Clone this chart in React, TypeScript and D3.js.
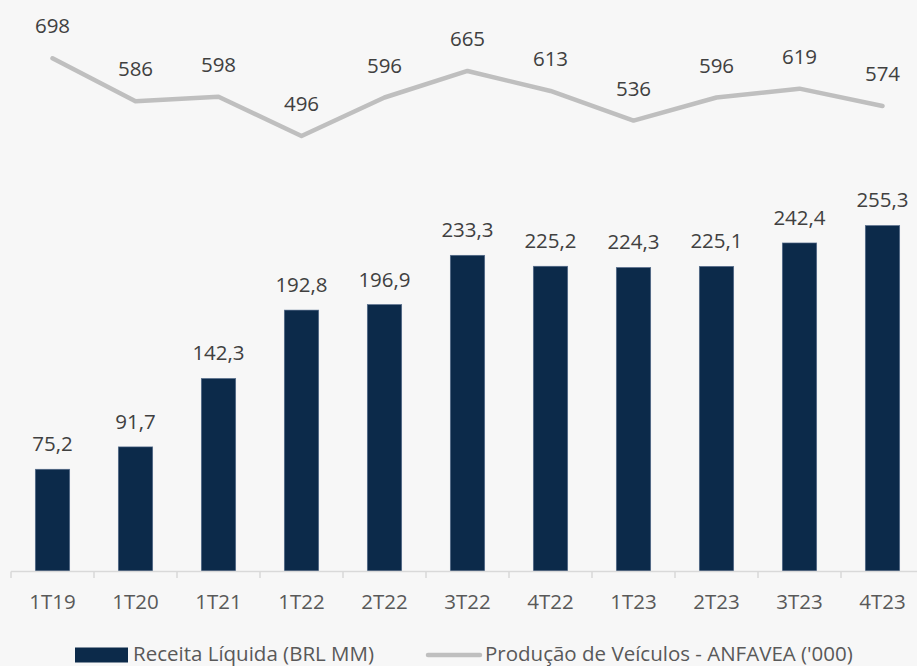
import React from "react";
import * as d3 from "d3";

const categories = ["1T19", "1T20", "1T21", "1T22", "2T22", "3T22", "4T22", "1T23", "2T23", "3T23", "4T23"];
const receita = [75.2, 91.7, 142.3, 192.8, 196.9, 233.3, 225.2, 224.3, 225.1, 242.4, 255.3];
const producao = [698, 586, 598, 496, 596, 665, 613, 536, 596, 619, 574];
const legendBar = "Receita Líquida (BRL MM)";
const legendLine = "Produção de Veículos - ANFAVEA ('000)";

const W = 917;
const H = 666;
const BG = "#f7f7f7";
const BAR = "#0c2a4a";
const LINE = "#bfbfbf";
const TXT = "#404040";
const TXT2 = "#595959";
const FONT = "'Open Sans', 'Noto Sans', sans-serif";

const fmt = (v: number) => v.toFixed(1).replace(".", ",");

export default function App() {
  const x = d3.scaleBand<string>().domain(categories).range([11, 924]).paddingInner(0.585).paddingOuter(0.2925);
  const yBar = d3.scaleLinear().domain([0, 300]).range([571, 165]);
  const yLine = d3.scaleLinear().domain([0, 700]).range([326.8, 57.5]);
  const cx = (c: string) => (x(c) as number) + x.bandwidth() / 2;
  const line = d3
    .line<number>()
    .x((_, i) => cx(categories[i]))
    .y((d) => yLine(d));
  const step = x.step();
  const boundaries = d3.range(categories.length + 1).map((i) => 11 + i * step);

  return (
    <svg width={W} height={H} style={{ position: "absolute", left: 0, top: 0, background: BG }} fontFamily={FONT}>
      <rect x={0} y={0} width={W} height={H} fill={BG} />
      {receita.map((v, i) => (
        <rect
          key={categories[i]}
          x={x(categories[i])}
          y={yBar(v)}
          width={x.bandwidth()}
          height={yBar(0) - yBar(v)}
          fill={BAR}
          stroke="#5b7190"
          strokeWidth={0.6}
        />
      ))}
      {receita.map((v, i) => (
        <text key={"bl" + i} x={cx(categories[i])} y={yBar(v) - 18} textAnchor="middle" fontSize={20.5} fill={TXT}>
          {fmt(v)}
        </text>
      ))}
      <line x1={11} x2={W} y1={571.5} y2={571.5} stroke="#d9d9d9" strokeWidth={1.5} />
      {boundaries.map((b, i) => (
        <line key={"t" + i} x1={b} x2={b} y1={571.5} y2={578} stroke="#d9d9d9" strokeWidth={1.5} />
      ))}
      {categories.map((c) => (
        <text key={"c" + c} x={cx(c)} y={609} textAnchor="middle" fontSize={20.5} fill={TXT2}>
          {c}
        </text>
      ))}
      <path d={line(producao) || ""} fill="none" stroke={LINE} strokeWidth={4.5} strokeLinecap="round" strokeLinejoin="round" />
      {producao.map((v, i) => (
        <text key={"ll" + i} x={cx(categories[i])} y={yLine(v) - 25} textAnchor="middle" fontSize={20.5} fill={TXT}>
          {v}
        </text>
      ))}
      <rect x={75} y={647.5} width={53} height={15} fill={BAR} />
      <text x={133} y={660.5} fontSize={20.5} fill={TXT2}>
        {legendBar}
      </text>
      <line x1={428} x2={480} y1={655} y2={655} stroke={LINE} strokeWidth={4.5} strokeLinecap="round" />
      <text x={485} y={660.5} fontSize={20.5} fill={TXT2}>
        {legendLine}
      </text>
    </svg>
  );
}
